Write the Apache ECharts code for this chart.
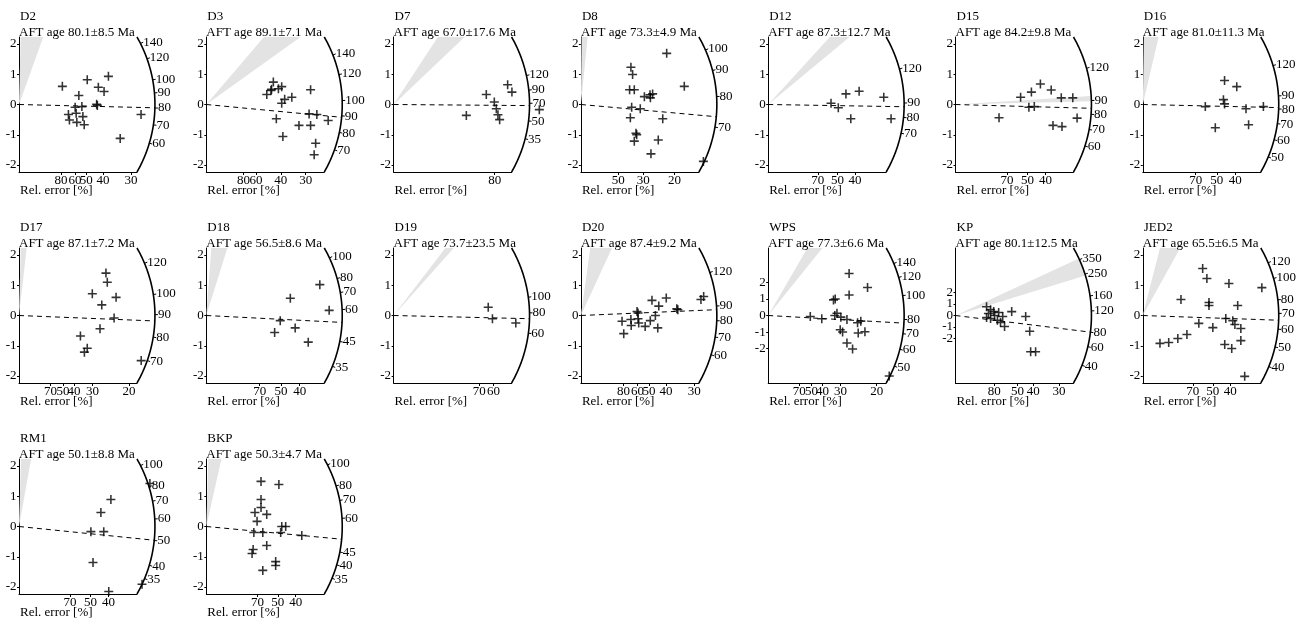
<!DOCTYPE html>
<html><head><meta charset="utf-8">
<script src="https://cdn.jsdelivr.net/npm/echarts@6.0.0/dist/echarts.min.js"></script>
<style>html,body{margin:0;padding:0;background:#fff}#c{width:1301px;height:626px}</style>
</head><body><div id="c"></div>
<script>
// ---------------- DATA ----------------
const panelNames = ['D2','D3','D7','D8','D12','D15','D16','D17','D18','D19','D20','WPS','KP','JED2','RM1','BKP'];
const centralAge = ['80.1','89.1','67.0','73.3','87.3','84.2','81.0','87.1','56.5','73.7','87.4','77.3','80.1','65.5','50.1','50.3'];
const centralErr = ['8.5','7.1','17.6','4.9','12.7','9.8','11.3','7.2','8.6','23.5','9.2','6.6','12.5','6.5','8.8','4.7'];
// age (Ma) at which the dashed central line meets the arc
const lineAge = [80.1,89.1,67.0,73.3,87.3,84.2,81.0,87.1,53.5,73.7,87.4,77.3,80.1,65.5,50.1,50.3];
// reference age of the horizontal (y = 0) direction
const refAge = [82.2,97.3,68.4,77.3,88.9,87,83.3,89.6,56.9,77.1,83.4,83,110,68.6,56.3,56];
// scale of the age transform (slope per log-age unit)
const slopeFactor = [1.047,1.058,1.037,1.051,1.037,1.023,1.0,1.035,1.023,1.034,1.03,1.035,1.05,0.87,1.03,1.034];
// age tick labels on the arc (Ma)
const ageTicks = [
  [140,120,100,90,80,70,60],[140,120,100,90,80,70],[120,90,70,50,35],[100,90,80,70],
  [120,90,80,70],[120,90,80,70,60],[120,90,80,70,60,50],[120,100,90,80,70],
  [100,80,70,60,45,35],[100,80,60],[120,90,80,70,60],[140,120,100,80,70,60,50],
  [350,250,160,120,80,60,40],[120,100,80,70,60,50,40],[100,80,70,60,50,40,35],[100,80,70,60,45,40,35]
];
// relative error tick labels (%)
const errTicks = [
  [80,60,50,40,30],[80,60,40,30],[80],[50,30,20],[70,50,40],[70,50,40],[70,50,40],[70,50,40,30,20],
  [70,50,40],[70,60],[80,60,50,40,30],[70,50,40,30,20],[80,50,40,30],[70,50,40],[70,50,40],[70,50,40]
];
// precision (100 / rel. error) at the end of the x axis
const precMax = [3.51,3.96,1.46,6.3,3.4,3.28,3.19,5.36,3.16,1.97,3.47,5.44,3.8,3.37,3.3,3.3];
// standardised-estimate half range
const stdMax = [2.23,2.23,2.23,2.23,2.23,2.23,2.23,2.23,2.23,2.23,2.23,4.07,5.87,2.23,2.23,2.23];
// grey reference wedge, given as two slopes (y/x)
const wedgeSlopes = [
  [3.09,44],[0.705,1.153],[2.54,4.07],[6.2,60],[0.951,1.255],[0.029,0.074],[5.2,80],[6.4,28.6],
  [3.95,16.6],[2.22,2.58],[2.44,8.1],[1.63,2.25],[0.83,1.25],[2.09,4.55],[6.6,40],[5.3,39]
];
// grains: [precision, standardised estimate]
const ptsD2 = [[1.29,0.60],[2.03,0.82],[2.66,0.93],[2.36,0.57],[2.53,0.43],[1.78,0.30],[1.67,-0.09],[1.87,-0.07],[2.33,-0.03],[2.31,0.01],[1.47,-0.33],[1.70,-0.29],[1.90,-0.40],[1.50,-0.51],[1.72,-0.59],[1.94,-0.67],[3.63,-0.33],[3.01,-1.12]];
const ptsD3 = [[2.25,0.74],[2.17,0.46],[2.19,0.50],[2.03,0.33],[2.53,0.59],[2.42,0.52],[2.63,0.17],[2.53,0.04],[2.87,0.24],[3.50,0.49],[2.35,-0.47],[3.45,-0.31],[3.71,-0.33],[4.09,-0.53],[3.11,-0.69],[3.50,-0.69],[2.57,-1.06],[3.67,-1.28],[3.62,-1.66]];
const ptsD7 = [[1.147,0.33],[1.411,0.65],[1.464,0.41],[1.246,0.08],[1.271,-0.14],[1.291,-0.34],[1.312,-0.50],[0.90,-0.36],[1.803,-0.17]];
const ptsD8 = [[4.58,1.69],[2.67,1.23],[2.76,0.99],[2.60,0.49],[2.85,0.49],[3.39,0.26],[3.69,0.32],[3.83,0.35],[3.71,0.22],[5.52,0.60],[2.71,-0.09],[3.17,-0.14],[2.64,-0.44],[4.37,-0.47],[2.94,-0.95],[2.98,-1.0],[2.85,-1.21],[4.13,-1.17],[3.74,-1.63],[6.54,-1.88]];
const ptsD12 = [[1.81,0.04],[2.02,-0.11],[2.24,0.35],[2.62,0.44],[2.38,-0.47],[3.33,0.24],[3.54,-0.47]];
const ptsD15 = [[1.21,-0.44],[1.81,0.24],[2.11,0.41],[2.36,0.68],[2.66,0.48],[2.04,-0.09],[2.19,-0.07],[2.94,0.22],[3.26,0.22],[2.71,-0.69],[2.96,-0.73],[3.38,-0.45]];
const ptsD16 = [[1.69,-0.07],[2.21,0.79],[2.54,0.59],[2.18,0.16],[2.21,0.02],[1.96,-0.77],[2.79,-0.14],[2.86,-0.67],[3.26,-0.07]];
const ptsD17 = [[3.95,1.40],[4.01,1.10],[3.33,0.72],[4.41,0.60],[3.76,0.35],[4.32,-0.08],[3.68,-0.44],[2.79,-0.68],[3.10,-1.08],[2.97,-1.21],[5.55,-1.49]];
const ptsD18 = [[3.04,1.02],[2.25,0.57],[3.29,0.17],[1.98,-0.17],[2.38,-0.41],[1.83,-0.56],[2.73,-0.88]];
const ptsD19 = [[1.58,0.27],[1.65,-0.11],[2.04,-0.25]];
const ptsD20 = [[2.09,0.50],[2.51,0.58],[2.29,0.31],[2.82,0.22],[2.85,0.19],[3.53,0.53],[3.61,0.63],[1.65,0.13],[1.68,0.08],[2.19,0.0],[1.21,-0.19],[1.47,-0.13],[1.68,-0.11],[2.04,-0.17],[1.89,-0.36],[1.48,-0.33],[1.70,-0.25],[2.26,-0.41],[1.26,-0.60]];
const ptsWPS = [[3.73,2.53],[4.58,1.69],[3.73,1.24],[3.01,0.94],[3.09,1.0],[3.17,0.14],[3.07,0.0],[3.35,-0.10],[1.94,-0.06],[2.47,-0.20],[3.63,-0.24],[4.12,-0.44],[4.27,-0.34],[3.32,-0.86],[3.43,-1.0],[4.15,-1.06],[4.46,-0.98],[3.63,-1.66],[3.89,-2.02],[5.58,-3.65]];
const ptsKP = [[1.0,0.76],[1.13,0.51],[1.23,0.34],[1.06,0.17],[1.26,0.0],[1.39,0.26],[1.13,-0.26],[1.35,-0.42],[1.45,-0.60],[1.0,-0.17],[1.52,-0.09],[1.81,0.34],[2.26,-0.09],[1.58,-0.95],[2.39,-1.37],[2.58,-3.16],[2.42,-3.16]];
const ptsJED2 = [[1.71,1.55],[1.83,1.22],[2.46,1.06],[1.09,0.53],[3.40,0.92],[1.89,0.43],[1.89,0.33],[2.71,0.33],[2.37,-0.10],[2.57,-0.17],[2.63,-0.30],[1.60,-0.26],[2.0,-0.40],[2.80,-0.43],[2.80,-0.83],[2.34,-0.96],[1.26,-0.63],[1.0,-0.76],[0.74,-0.89],[0.49,-0.92],[2.54,-1.09],[2.91,-2.01]];
const ptsRM1 = [[3.66,1.42],[2.57,0.89],[2.29,0.46],[2.01,-0.17],[2.37,-0.17],[2.07,-1.19],[2.51,-2.15],[3.44,-1.91]];
const ptsBKP = [[1.53,1.49],[2.03,1.39],[1.53,0.89],[1.53,0.63],[1.36,0.46],[1.69,0.40],[1.42,0.17],[2.11,0.0],[2.22,0.0],[1.33,-0.20],[1.58,-0.20],[2.08,-0.20],[2.67,-0.30],[1.31,-0.76],[1.28,-0.89],[1.69,-0.63],[1.94,-1.16],[1.94,-1.29],[1.58,-1.45]];
const grainPoints = [ptsD2,ptsD3,ptsD7,ptsD8,ptsD12,ptsD15,ptsD16,ptsD17,ptsD18,ptsD19,ptsD20,ptsWPS,ptsKP,ptsJED2,ptsRM1,ptsBKP];
const yTickValues = [-2,-1,0,1,2];

// ---------------- LAYOUT ----------------
const FONT = '"Liberation Serif", "Times New Roman", serif';
const COL0 = 19, COLSTEP = 187.3, ROW0 = 37, ROWSTEP = 211, GW = 118, GH = 135;

function clipY(poly, yLim, keepGreater) {
  const out = [];
  for (let k = 0; k < poly.length; k++) {
    const P = poly[k], Q = poly[(k + 1) % poly.length];
    const inP = keepGreater ? P[1] >= yLim : P[1] <= yLim;
    const inQ = keepGreater ? Q[1] >= yLim : Q[1] <= yLim;
    if (inP) out.push(P);
    if (inP !== inQ) {
      const t = (yLim - P[1]) / (Q[1] - P[1]);
      out.push([P[0] + t * (Q[0] - P[0]), yLim]);
    }
  }
  return out;
}

function makeRender(i) {
  return function (params, api) {
    const O = api.coord([0, 0]);
    const TR = api.coord([precMax[i], stdMax[i]]);
    const BR = api.coord([precMax[i], -stdMax[i]]);
    const R = Math.hypot(TR[0] - O[0], TR[1] - O[1]);
    const angOf = s => { const p = api.coord([1, s]); return Math.atan2(p[1] - O[1], p[0] - O[0]); };
    const ageSlope = t => slopeFactor[i] * Math.log(t / refAge[i]);
    const angTop = Math.atan2(TR[1] - O[1], TR[0] - O[0]);
    const angBot = Math.atan2(BR[1] - O[1], BR[0] - O[0]);
    const font = '13px ' + FONT;
    const ch = [];
    // wedge
    const a1 = angOf(wedgeSlopes[i][0]), a2 = angOf(wedgeSlopes[i][1]);
    let poly = [[O[0], O[1]]];
    for (let k = 0; k <= 40; k++) {
      const a = a1 + (a2 - a1) * k / 40;
      poly.push([O[0] + R * Math.cos(a), O[1] + R * Math.sin(a)]);
    }
    poly = clipY(poly, TR[1], true);
    poly = clipY(poly, BR[1], false);
    if (poly.length > 2) ch.push({ type: 'polygon', shape: { points: poly }, style: { fill: '#e3e3e3', stroke: null }, z2: 0 });
    // arc
    const arc = [];
    for (let k = 0; k <= 80; k++) {
      const a = angTop + (angBot - angTop) * k / 80;
      arc.push([O[0] + R * Math.cos(a), O[1] + R * Math.sin(a)]);
    }
    ch.push({ type: 'polyline', shape: { points: arc }, style: { stroke: '#000', lineWidth: 1.6, fill: null }, z2: 2 });
    // dashed central line
    const al = angOf(ageSlope(lineAge[i]));
    ch.push({ type: 'line', shape: { x1: O[0], y1: O[1], x2: O[0] + R * Math.cos(al), y2: O[1] + R * Math.sin(al) },
      style: { stroke: '#000', lineWidth: 1, lineDash: [5, 4] }, z2: 2 });
    // age ticks
    ageTicks[i].forEach(t => {
      const a = angOf(ageSlope(t));
      const c = Math.cos(a), s = Math.sin(a);
      ch.push({ type: 'line', shape: { x1: O[0] + R * c, y1: O[1] + R * s, x2: O[0] + (R + 3) * c, y2: O[1] + (R + 3) * s },
        style: { stroke: '#000', lineWidth: 1 }, z2: 2 });
      ch.push({ type: 'text', x: O[0] + (R + 3) * c, y: O[1] + (R + 3) * s,
        style: { text: String(t), font, fill: '#000', align: 'left', verticalAlign: 'middle' }, z2: 2 });
    });
    // x-axis (rel. error) labels
    errTicks[i].forEach(e => {
      const p = api.coord([100 / e, -stdMax[i]]);
      ch.push({ type: 'text', x: p[0], y: p[1] + 2,
        style: { text: String(e), font, fill: '#000', align: 'center', verticalAlign: 'top' }, z2: 2 });
    });
    // y-axis labels
    yTickValues.forEach(v => {
      const p = api.coord([0, v]);
      ch.push({ type: 'text', x: p[0] - 2.5, y: p[1],
        style: { text: String(v), font, fill: '#000', align: 'right', verticalAlign: 'middle' }, z2: 2 });
    });
    return { type: 'group', children: ch };
  };
}

const grids = [], xAxes = [], yAxes = [], series = [], titles = [];
panelNames.forEach((name, i) => {
  const col = i % 7, row = Math.floor(i / 7);
  const left = COL0 + col * COLSTEP, top = ROW0 + row * ROWSTEP;
  grids.push({ left, top, width: GW, height: GH });
  xAxes.push({
    type: 'value', gridIndex: i, min: 0, max: precMax[i],
    axisLine: { show: true, onZero: false, lineStyle: { color: '#000', width: 1 } },
    splitLine: { show: false },
    axisTick: { show: true, customValues: errTicks[i].map(e => 100 / e), length: 3, lineStyle: { color: '#000' } },
    axisLabel: { show: false }
  });
  yAxes.push({
    type: 'value', gridIndex: i, min: -stdMax[i], max: stdMax[i],
    axisLine: { show: true, onZero: false, lineStyle: { color: '#000', width: 1 } },
    splitLine: { show: false },
    axisTick: { show: true, customValues: yTickValues, length: 2, lineStyle: { color: '#000' } },
    axisLabel: { show: false }
  });
  series.push({ type: 'custom', xAxisIndex: i, yAxisIndex: i, data: [[0, 0]], renderItem: makeRender(i), silent: true, clip: false, z: 1 });
  series.push({ type: 'scatter', xAxisIndex: i, yAxisIndex: i, data: grainPoints[i], clip: false, silent: true, z: 3,
    symbol: 'path://M0,3.3H8V4.7H0Z M3.3,0H4.7V8H3.3Z', symbolSize: 9, itemStyle: { color: '#000' } });
  const ts = { fontFamily: FONT, fontSize: 13, fontWeight: 'normal', color: '#000' };
  titles.push({ text: name, left: left + 1, top: top - 27, padding: 0, textStyle: ts });
  titles.push({ text: 'AFT age ' + centralAge[i] + '±' + centralErr[i] + ' Ma', left: left, top: top - 11, padding: 0, textStyle: ts });
  titles.push({ text: 'Rel. error [%]', left: left + 1, top: top + 147, padding: 0, textStyle: ts });
});

const chart = echarts.init(document.getElementById('c'), null, { renderer: 'canvas' });
chart.setOption({
  animation: false, backgroundColor: '#fff',
  title: titles, grid: grids, xAxis: xAxes, yAxis: yAxes, series
});
</script>
</body></html>
